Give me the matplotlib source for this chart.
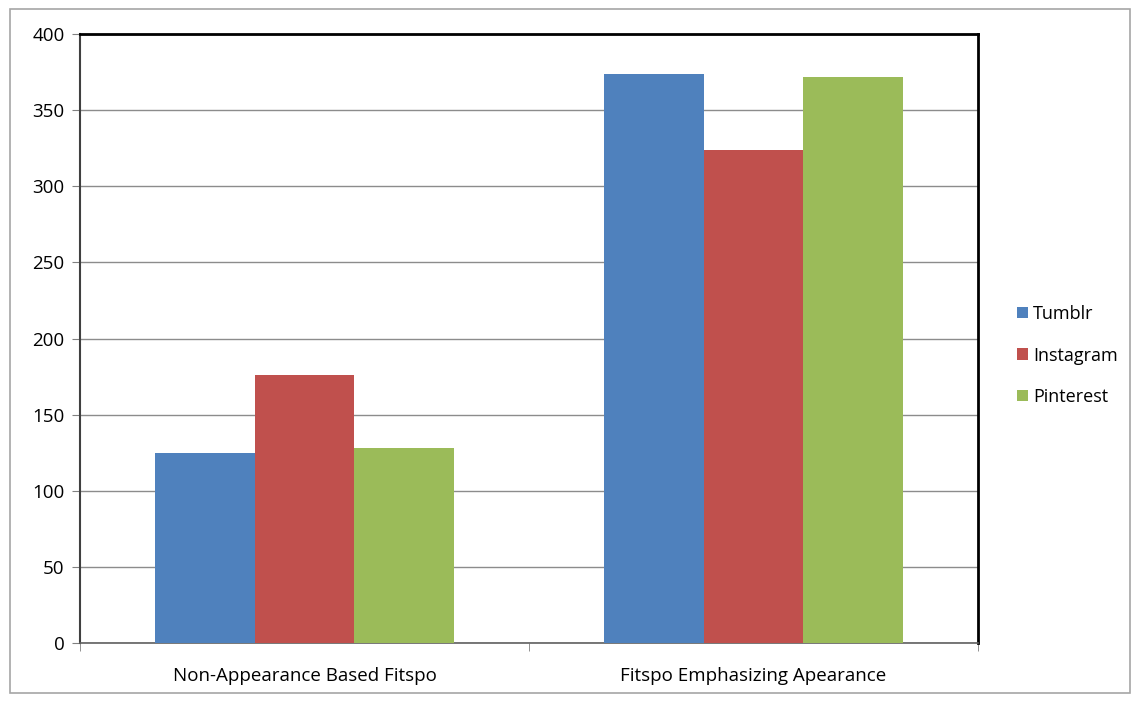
import matplotlib.pyplot as plt
import numpy as np
from matplotlib.patches import Rectangle

plt.rcParams['font.family'] = ['Open Sans', 'DejaVu Sans']

categories = ["Non-Appearance Based Fitspo", "Fitspo Emphasizing Apearance"]
series = ["Tumblr", "Instagram", "Pinterest"]
tumblr = [125, 374]
instagram = [176, 324]
pinterest = [128, 372]
colors = ["#4f81bd", "#c0504d", "#9bbb59"]

fig = plt.figure(figsize=(11.38, 7.02), dpi=100)
fig.patches.append(Rectangle((10 / 1138, 9 / 702), 1120 / 1138, 684 / 702,
                             transform=fig.transFigure, fill=False,
                             edgecolor="#a6a6a6", linewidth=1.2))
ax = fig.add_axes([80 / 1138, 1 - 643 / 702, 898 / 1138, 609 / 702])

x = np.arange(len(categories))
w = 0.667 / 3
for i, (vals, name) in enumerate(zip([tumblr, instagram, pinterest], series)):
    ax.bar(x + (i - 1) * w, vals, width=w, color=colors[i], label=name, zorder=3)

ax.set_xlim(-0.5, 1.5)
ax.set_ylim(0, 400)
ax.set_yticks(range(0, 401, 50))
ax.yaxis.grid(True, color="#8c8c8c", linewidth=1.0, zorder=0)
ax.set_xticks(x)
ax.set_xticklabels(categories, fontsize=13.5)
ax.tick_params(axis="x", length=0, pad=17)
ax.set_xticks([-0.5, 0.5, 1.5], minor=True)
ax.tick_params(axis="x", which="minor", length=6, color="#808080")
ax.tick_params(axis="y", length=6, color="#808080", labelsize=13.5, pad=5)

for s in ["top", "right"]:
    ax.spines[s].set_color("black")
    ax.spines[s].set_linewidth(2)
ax.spines["left"].set_color("#404040")
ax.spines["left"].set_linewidth(1.5)
ax.spines["bottom"].set_color("#606060")
ax.spines["bottom"].set_linewidth(1.2)

ax.legend(loc="center left", bbox_to_anchor=(1.025, 0.472), frameon=False,
          fontsize=13, handlelength=0.6, handleheight=0.6, handletextpad=0.3,
          labelspacing=1.3)

fig.savefig("out.png", dpi=100)
